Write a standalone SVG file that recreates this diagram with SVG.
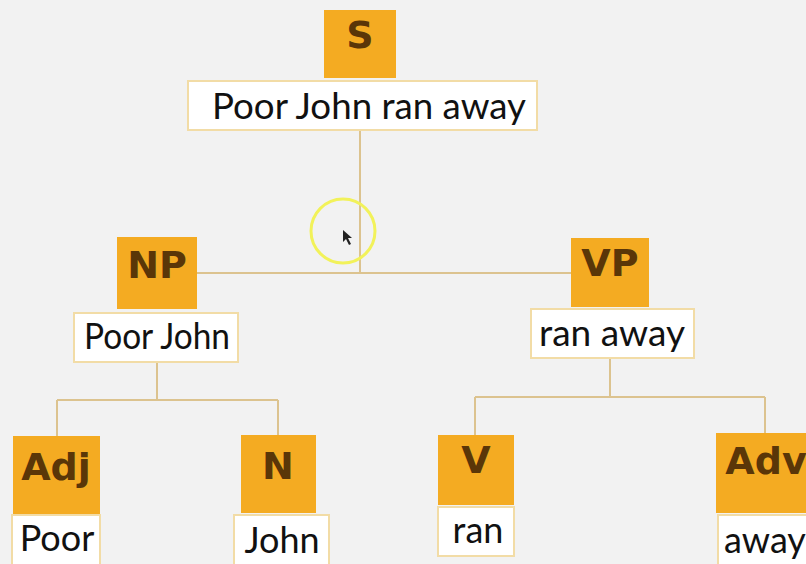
<svg xmlns="http://www.w3.org/2000/svg" width="806" height="564" viewBox="0 0 806 564">
<style>
.cat{fill:#f4ab22}
.lab{font-family:"DejaVu Sans",sans-serif;font-weight:bold;font-size:38px;fill:#5a3608;text-anchor:middle}
.wbox{fill:#ffffff;stroke:#f2dca6;stroke-width:2}
.word{font-family:Lato,"Open Sans",sans-serif;font-size:36px;fill:#111;text-anchor:middle}
.conn{fill:none;stroke:#dcc38f;stroke-width:2}
</style>
<rect width="806" height="564" fill="#f2f2f2"/>
<g id="connectors">
<path class="conn" d="M360 130V273M197 273H571"/>
<path class="conn" d="M157 362V400M57 400H278M57 400V436M278 400V435"/>
<path class="conn" d="M610 358V397M475 397H765M475 397V435M765 397V433"/>
</g>
<g id="S">
<rect class="cat" x="324" y="10" width="72" height="68"/>
<text class="lab" x="360" y="48">S</text>
<rect class="wbox" x="188" y="81" width="349" height="49"/>
<text class="word" x="369" y="119" textLength="314" lengthAdjust="spacingAndGlyphs">Poor John ran away</text>
</g>
<g id="NP">
<rect class="cat" x="117" y="237" width="80" height="72"/>
<text class="lab" x="157" y="278">NP</text>
<rect class="wbox" x="74" y="313" width="164" height="49"/>
<text class="word" x="157" y="349" textLength="146" lengthAdjust="spacingAndGlyphs">Poor John</text>
</g>
<g id="VP">
<rect class="cat" x="571" y="238" width="78" height="69"/>
<text class="lab" x="610" y="276">VP</text>
<rect class="wbox" x="531" y="309" width="163" height="49"/>
<text class="word" x="612" y="346" textLength="146" lengthAdjust="spacingAndGlyphs">ran away</text>
</g>
<g id="Adj">
<rect class="cat" x="13" y="436" width="87" height="79"/>
<text class="lab" x="56" y="480">Adj</text>
<rect class="wbox" x="12" y="515" width="88" height="55"/>
<text class="word" x="57" y="551">Poor</text>
</g>
<g id="N">
<rect class="cat" x="241" y="435" width="75" height="78"/>
<text class="lab" x="278" y="479">N</text>
<rect class="wbox" x="234" y="515" width="95" height="55"/>
<text class="word" x="282" y="553">John</text>
</g>
<g id="V">
<rect class="cat" x="438" y="435" width="76" height="70"/>
<text class="lab" x="476" y="473">V</text>
<rect class="wbox" x="438" y="507" width="76" height="49"/>
<text class="word" x="478" y="543">ran</text>
</g>
<g id="Adv">
<rect class="cat" x="716" y="433" width="100" height="80"/>
<text class="lab" x="766" y="474">Adv</text>
<rect class="wbox" x="718" y="515" width="100" height="55"/>
<text class="word" x="765" y="553">away</text>
</g>
<g id="cursor">
<circle cx="343" cy="231" r="32" fill="none" stroke="#f2f25a" stroke-width="3"/>
<path d="M343 230L343 242L346 239L349 245L351 244L348 238L352 238Z" fill="#222"/>
</g>
</svg>
